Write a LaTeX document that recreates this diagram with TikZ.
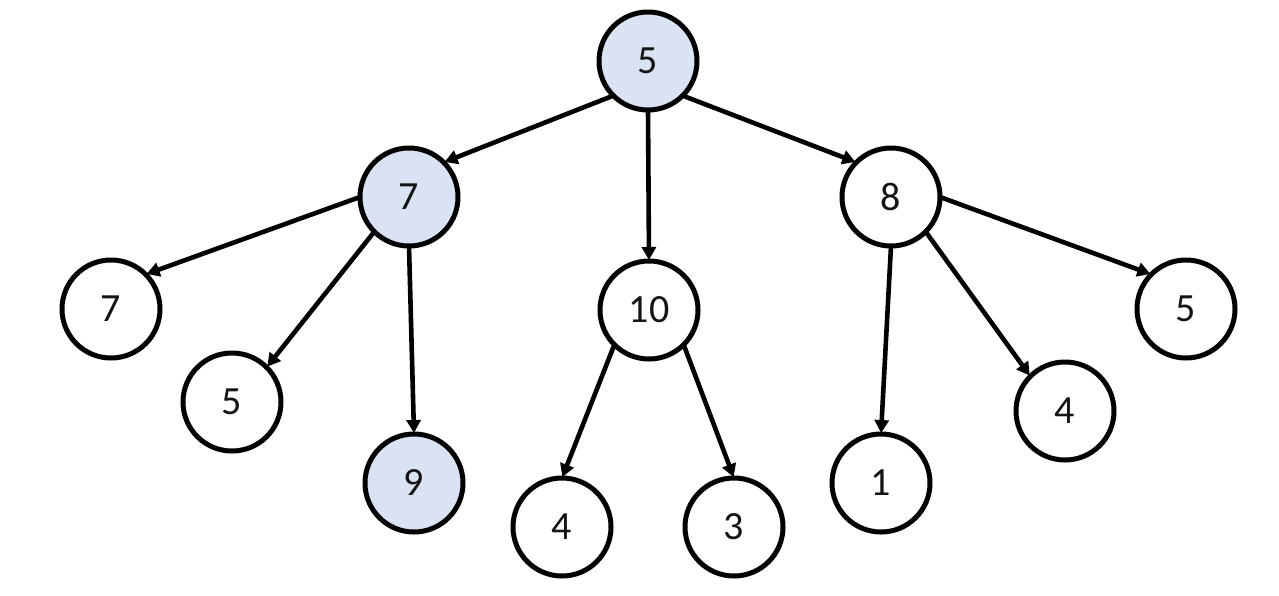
\documentclass[tikz,border=0pt]{standalone}
\usepackage{fontspec}
\setmainfont{Carlito}
\usetikzlibrary{arrows.meta}
\definecolor{lblue}{HTML}{DAE3F3}
\definecolor{txt}{HTML}{141414}
\tikzset{
  tn/.style={circle,draw=black,line width=5pt,minimum size=98pt,inner sep=0pt,outer sep=0pt,fill=white,text=txt,font=\fontsize{40}{46}\selectfont},
  hl/.style={fill=lblue},
  edge/.style={line width=4.6pt,-{Triangle[length=13pt,width=14pt]},shorten >=1pt}
}
\begin{document}
\begin{tikzpicture}[x=1pt,y=-1pt]
\useasboundingbox (0,0) rectangle (1279,595);
\node[tn,hl] (r) at (648,61) {5};
\node[tn,hl] (a) at (409,197) {7};
\node[tn] (b) at (649,310) {10};
\node[tn] (c) at (891,197) {8};
\node[tn] (a1) at (111,309) {7};
\node[tn] (a2) at (232,402) {5};
\node[tn,hl] (a3) at (414,483) {9};
\node[tn] (b1) at (562,527) {4};
\node[tn] (b2) at (734,527) {3};
\node[tn] (c1) at (881,483) {1};
\node[tn] (c2) at (1065,411) {4};
\node[tn] (c3) at (1186,309) {5};
\draw[edge] (r.south west) -- (a.north east);
\draw[edge] (r.south) -- (b.north);
\draw[edge] (r.south east) -- (c.north west);
\draw[edge] (a.west) -- (a1.north east);
\draw[edge] (a.south west) -- (a2.north east);
\draw[edge] (a.south) -- (a3.north);
\draw[edge] (b.south west) -- (b1.north);
\draw[edge] (b.south east) -- (b2.north);
\draw[edge] (c.south) -- (c1.north);
\draw[edge] (c.south east) -- (c2.north west);
\draw[edge] (c.east) -- (c3.north west);
\end{tikzpicture}
\end{document}
